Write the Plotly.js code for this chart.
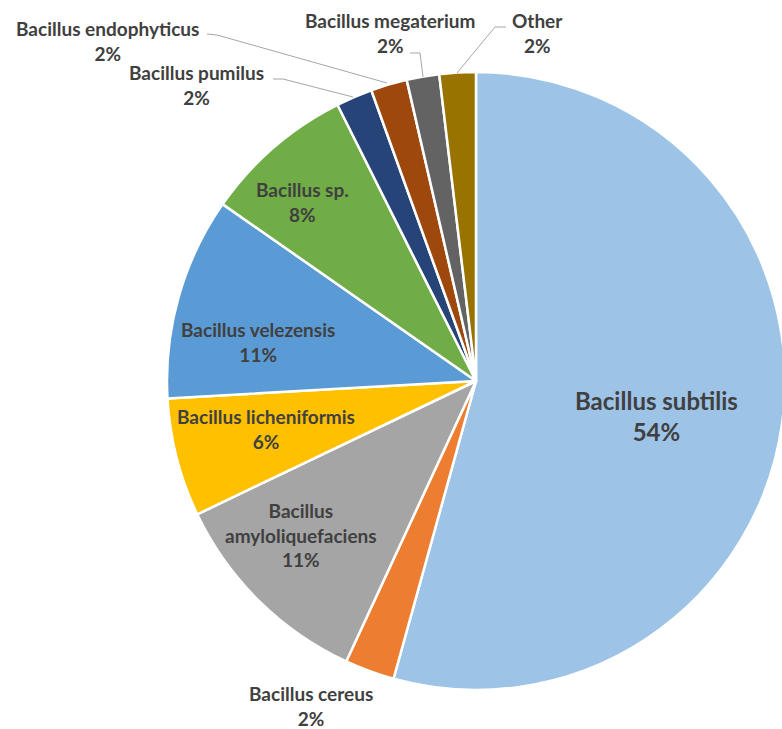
<!DOCTYPE html>
<html>
<head>
<meta charset="utf-8">
<script src="https://cdn.plot.ly/plotly-3.0.1.min.js"></script>
<style>
  html, body { margin: 0; padding: 0; background: #ffffff; overflow: hidden; }
  #chart { width: 792px; height: 729px; }
</style>
</head>
<body>
<div id="chart"></div>
<script>
// ---- Data ----
const species = [
  "Bacillus subtilis", "Bacillus cereus", "Bacillus amyloliquefaciens",
  "Bacillus licheniformis", "Bacillus velezensis", "Bacillus sp.",
  "Bacillus pumilus", "Bacillus endophyticus", "Bacillus megaterium", "Other"
];
const shares = [54.3, 2.6, 11.0, 6.2, 10.6, 7.9, 1.9, 1.9, 1.7, 1.9];
const pctLabels = ["54%", "2%", "11%", "6%", "11%", "8%", "2%", "2%", "2%", "2%"];
const displayNames = [
  "Bacillus subtilis", "Bacillus cereus", "Bacillus<br>amyloliquefaciens",
  "Bacillus licheniformis", "Bacillus velezensis", "Bacillus sp.",
  "Bacillus pumilus", "Bacillus endophyticus", "Bacillus megaterium", "Other"
];
const sliceColors = ["#9DC3E6", "#ED7D31", "#A5A5A5", "#FFC000", "#5B9BD5",
                     "#70AD47", "#264478", "#9E480E", "#636363", "#997300"];

// ---- Layout helpers (pixel -> paper) ----
const W = 792, H = 729;
const px = x => x / W;
const py = y => 1 - y / H;

// label anchor positions (pixels, centre of text block) and font size
const labelPos = [
  [656, 416, 24], [311, 706, 19], [301, 535, 19], [266, 429, 19], [258, 342, 19],
  [302, 202, 19], [196, 85, 19], [107, 41, 19], [390, 33, 19], [537, 33, 19]
];

const annotations = species.map((s, i) => ({
  x: px(labelPos[i][0]), y: py(labelPos[i][1]),
  xref: "paper", yref: "paper", xanchor: "center", yanchor: "middle",
  showarrow: false, align: "center",
  text: "<b>" + displayNames[i] + "<br>" + pctLabels[i] + "</b>",
  font: { family: "Lato, 'Open Sans', sans-serif", size: labelPos[i][2], color: "#404040" }
}));

const leaders = [
  [[207, 34], [217, 35], [387, 83]],
  [[273, 79], [283, 79], [353, 97]],
  [[410, 53], [420, 53], [423, 77]],
  [[506, 27], [495, 27], [457, 73]]
];
const shapes = leaders.map(pts => ({
  type: "path", xref: "paper", yref: "paper",
  path: pts.map((p, k) => (k ? "L" : "M") + px(p[0]) + "," + py(p[1])).join(" "),
  line: { color: "#A6A6A6", width: 1 }
}));

const R = 309, CX = 476, CY = 381;
const trace = {
  type: "pie",
  labels: species,
  values: shares,
  sort: false,
  direction: "clockwise",
  rotation: 0,
  textinfo: "none",
  hoverinfo: "label+percent",
  marker: { colors: sliceColors, line: { color: "#FFFFFF", width: 2.5 } },
  domain: { x: [px(CX - R), Math.min(1, px(CX + R))], y: [py(CY + R), py(CY - R)] },
  showlegend: false
};

Plotly.newPlot("chart", [trace], {
  width: W, height: H,
  margin: { l: 0, r: 0, t: 0, b: 0 },
  paper_bgcolor: "#FFFFFF",
  showlegend: false,
  annotations: annotations,
  shapes: shapes
}, { displayModeBar: false, staticPlot: true });
</script>
</body>
</html>
